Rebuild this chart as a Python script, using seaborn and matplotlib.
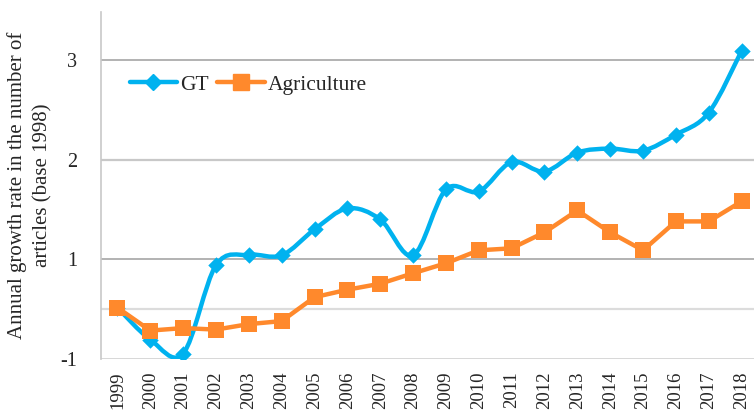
import numpy as np
import pandas as pd
import seaborn as sns
import matplotlib.pyplot as plt
from matplotlib.lines import Line2D
from matplotlib.path import Path
from matplotlib.patches import PathPatch

years = list(range(1999, 2019))
gt = [0.03, -0.61, -0.89, 0.88, 1.045, 1.04, 1.30, 1.51, 1.40, 1.04,
      1.70, 1.68, 1.975, 1.88, 2.07, 2.11, 2.09, 2.25, 2.47, 3.09]
agri = [0.03, -0.43, -0.38, -0.41, -0.30, -0.24, 0.24, 0.39, 0.51, 0.72,
        0.92, 1.09, 1.11, 1.27, 1.49, 1.27, 1.09, 1.38, 1.38, 1.58]
ytick_vals = [-1, 0, 1, 2, 3]
ytick_labels = ['-1', '', '1', '2', '3']

df = pd.DataFrame({'year': years, 'GT': gt, 'Agriculture': agri})

blue = '#00B2EF'
orange = '#FF892C'


# axis below 1 is squeezed to half scale, like the original
def fwd(y):
    y = np.asarray(y, dtype=float)
    return np.where(y >= 1, y, 1 + (y - 1) / 2)


def inv(t):
    t = np.asarray(t, dtype=float)
    return np.where(t >= 1, t, 1 + (t - 1) * 2)


sns.set_style('white')
plt.rcParams['font.family'] = ['Liberation Serif', 'DejaVu Serif']

fig = plt.figure(figsize=(7.54, 4.16), dpi=100)
ax = fig.add_axes([101 / 754, 57 / 416, 657 / 754, 347 / 416])
ax.set_yscale('function', functions=(fwd, inv))

# smoothed GT line (catmull-rom style bezier, built in scaled space)
xs = np.array(years, dtype=float)
ts = fwd(gt)
verts = [(xs[0], ts[0])]
codes = [Path.MOVETO]
n = len(xs)
for i in range(n - 1):
    p0 = np.array([xs[max(i - 1, 0)], ts[max(i - 1, 0)]])
    p1 = np.array([xs[i], ts[i]])
    p2 = np.array([xs[i + 1], ts[i + 1]])
    p3 = np.array([xs[min(i + 2, n - 1)], ts[min(i + 2, n - 1)]])
    c1 = p1 + (p2 - p0) / 6
    c2 = p2 - (p3 - p1) / 6
    verts += [tuple(c1), tuple(c2), tuple(p2)]
    codes += [Path.CURVE4] * 3
verts = [(vx, float(inv(vt))) for vx, vt in verts]
ax.add_patch(PathPatch(Path(verts, codes), facecolor='none', edgecolor=blue,
                       lw=3.2, capstyle='round', joinstyle='round', zorder=3))
sns.scatterplot(data=df, x='year', y='GT', marker='D', s=70, color=blue,
                edgecolor=blue, linewidth=0, ax=ax, zorder=4)

sns.lineplot(data=df, x='year', y='Agriculture', color=orange, lw=3.2,
             marker='s', markersize=12, markeredgewidth=0, ax=ax, zorder=5)

ax.set_xlim(1998.5, 2018.5)
ax.set_ylim(-1, 3.48)
ax.set_yticks(ytick_vals)
ax.set_yticklabels(ytick_labels, fontsize=14.5)
ax.set_xticks(years)
ax.set_xticklabels([str(y) for y in years], rotation=90, fontsize=13.5)
ax.tick_params(axis='both', length=0)
ax.tick_params(axis='x', pad=9)
ax.tick_params(axis='y', pad=17)
ax.set_xlabel('')
ax.set_ylabel('Annual growth rate in the number of\narticles (base 1998)',
              fontsize=15, linespacing=1.4, labelpad=6)

grid_colors = {-1: '#d4d4d4', 0: '#dcdcdc', 1: '#a6a6a6', 2: '#c8c8c8', 3: '#a6a6a6'}
grid_widths = {-1: 2.0, 0: 1.6, 1: 1.2, 2: 1.6, 3: 1.2}
for v in ytick_vals:
    ax.axhline(v, color=grid_colors[v], lw=grid_widths[v], zorder=1)

for s in ['top', 'right', 'bottom']:
    ax.spines[s].set_visible(False)
ax.spines['left'].set_color('#c8c8c8')
ax.spines['left'].set_linewidth(1.2)

handles = [Line2D([], [], color=blue, lw=3.2, marker='D', markersize=8),
           Line2D([], [], color=orange, lw=3.2, marker='s', markersize=12)]
ax.legend(handles, ['GT', 'Agriculture'], loc='center left',
          bbox_to_anchor=(0.027, 0.79), ncol=2, frameon=False, fontsize=15.5,
          handlelength=2.2, handletextpad=0.15, columnspacing=0.4, borderpad=0)

fig.savefig('out.png', dpi=100)
